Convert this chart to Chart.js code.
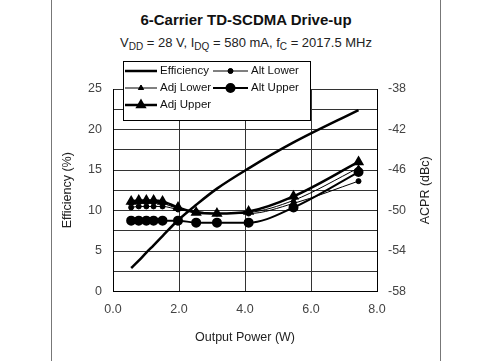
<!DOCTYPE html>
<html><head><meta charset="utf-8">
<script src="https://cdn.jsdelivr.net/npm/chart.js@4.4.0/dist/chart.umd.min.js"></script>
<style>
html,body{margin:0;padding:0;background:#fff;}
#wrap{position:relative;width:500px;height:361px;overflow:hidden;font-family:"Liberation Sans",Arial,sans-serif;}
#frame{position:absolute;left:51px;top:-2px;width:388px;height:400px;border-left:1px solid #777;border-right:1px solid #777;}
#t1{position:absolute;left:52px;width:388px;top:11px;text-align:center;font-weight:bold;font-size:15px;color:#111;}
#t2{position:absolute;left:52px;width:388px;top:35px;text-align:center;font-size:13px;color:#222;}
#t2 sub{font-size:10px;vertical-align:-3px;line-height:0;}
canvas{position:absolute;left:0;top:0;}
</style></head>
<body><div id="wrap">
<div id="frame"></div>
<div id="t1">6-Carrier TD-SCDMA Drive-up</div>
<div id="t2">V<sub>DD</sub> = 28 V, I<sub>DQ</sub> = 580 mA, f<sub>C</sub> = 2017.5 MHz</div>
<canvas id="c" width="500" height="361"></canvas>
</div>
<script>
const outputPower = [0.55, 0.78, 1.01, 1.23, 1.50, 1.97, 2.52, 3.15, 4.11, 5.47, 7.44];
const efficiency  = [2.9, 3.8, 4.8, 5.7, 6.85, 8.8, 10.7, 12.7, 15.2, 18.4, 22.4];
const altLower    = [-49.7, -49.6, -49.6, -49.6, -49.6, -49.9, -50.1, -50.3, -50.3, -49.3, -47.1];
const adjLower    = [-49.3, -49.2, -49.2, -49.2, -49.3, -49.8, -50.1, -50.3, -50.2, -49.0, -45.8];
const altUpper    = [-51.0, -51.0, -51.0, -51.0, -51.0, -51.0, -51.2, -51.2, -51.2, -49.7, -46.2];
const adjUpper    = [-49.1, -49.0, -49.0, -49.0, -49.1, -49.7, -50.2, -50.3, -50.1, -48.6, -45.2];
const xTicks = [0, 2, 4, 6, 8];
const effTicks = [0, 5, 10, 15, 20, 25];
const acprTicks = [-58, -54, -50, -46, -42, -38];

const pts = arr => arr.map((v, i) => ({x: outputPower[i], y: v}));
const FONT = '"Liberation Sans", Arial, sans-serif';

const legendItems = [
  {label:'Efficiency', x:125, y:71, w:2.5, style:null, r:0},
  {label:'Alt Lower', x:213, y:71, w:1, style:'circle', r:2.5},
  {label:'Adj Lower', x:125, y:88, w:1, style:'triangle', r:3},
  {label:'Alt Upper', x:213, y:88, w:2, style:'circle', r:4},
  {label:'Adj Upper', x:125, y:105, w:2.5, style:'triangle', r:4}
];

const extrasPlugin = {
  id:'extras',
  afterDraw(chart){
    const ctx = chart.ctx;
    ctx.save();
    // right axis title, reading bottom-to-top
    ctx.fillStyle = '#222';
    ctx.font = '12.5px ' + FONT;
    ctx.textAlign = 'center';
    ctx.textBaseline = 'middle';
    ctx.translate(426, (chart.chartArea.top + chart.chartArea.bottom) / 2);
    ctx.rotate(-Math.PI / 2);
    ctx.fillText('ACPR (dBc)', 0, 0);
    ctx.restore();

    ctx.save();
    ctx.fillStyle = '#fff';
    ctx.fillRect(123, 61, 187, 59);
    ctx.strokeStyle = '#000';
    ctx.lineWidth = 1;
    ctx.strokeRect(123.5, 61.5, 187, 59);
    ctx.font = '11.5px ' + FONT;
    ctx.textBaseline = 'middle';
    legendItems.forEach(it => {
      const sw = it.x === 125 ? 32 : 35;
      ctx.strokeStyle = '#000';
      ctx.lineWidth = it.w;
      ctx.beginPath();
      ctx.moveTo(it.x, it.y);
      ctx.lineTo(it.x + sw, it.y);
      ctx.stroke();
      if (it.style) {
        Chart.helpers.drawPoint(ctx, {pointStyle: it.style, radius: it.r, rotation: 0, borderWidth: 1}, it.x + sw/2, it.y);
        ctx.fillStyle = '#000';
        ctx.fill();
      }
      ctx.fillStyle = '#111';
      ctx.fillText(it.label, it.x + sw + 3, it.y);
    });
    ctx.restore();
  }
};

const common = {borderColor:'#000', backgroundColor:'#000', pointBorderColor:'#000', pointBackgroundColor:'#000', cubicInterpolationMode:'monotone', fill:false};

new Chart(document.getElementById('c'), {
  type:'line',
  data:{datasets:[
    Object.assign({label:'Efficiency', data:pts(efficiency), yAxisID:'y', borderWidth:2.5, pointRadius:0}, common),
    Object.assign({label:'Alt Lower', data:pts(altLower), yAxisID:'y2', borderWidth:1, pointRadius:2.5, pointStyle:'circle'}, common),
    Object.assign({label:'Adj Lower', data:pts(adjLower), yAxisID:'y2', borderWidth:1, pointRadius:3, pointStyle:'triangle'}, common),
    Object.assign({label:'Alt Upper', data:pts(altUpper), yAxisID:'y2', borderWidth:2, pointRadius:4, pointStyle:'circle'}, common),
    Object.assign({label:'Adj Upper', data:pts(adjUpper), yAxisID:'y2', borderWidth:2.5, pointRadius:4, pointStyle:'triangle'}, common)
  ]},
  options:{
    responsive:false, animation:false, devicePixelRatio:1,
    layout:{padding:{left:60, right:67, top:89, bottom:16}},
    plugins:{legend:{display:false}, title:{display:false}, tooltip:{enabled:false}},
    scales:{
      x:{type:'linear', min:0, max:8,
        afterFit(s){ s.height = 53.5; },
        afterBuildTicks(s){ s.ticks = xTicks.map(v => ({value:v})); },
        grid:{color:'#333', drawTicks:false},
        border:{color:'#000'},
        ticks:{padding:11, color:'#444', font:{family:FONT, size:12.5}, callback:v => v.toFixed(1), maxRotation:0},
        title:{display:true, text:'Output Power (W)', color:'#222', font:{family:FONT, size:12.5}, padding:{top:4,bottom:0}}
      },
      y:{position:'left', min:0, max:25,
        afterFit(s){ s.width = 53; },
        ticks:{stepSize:2.5, padding:11, color:'#444', font:{family:FONT, size:12.5},
          callback:v => effTicks.includes(v) ? String(v) : ''},
        grid:{color:'#333', drawTicks:false},
        border:{color:'#000'},
        title:{display:true, text:'Efficiency (%)', color:'#222', font:{family:FONT, size:12.5}, padding:0}
      },
      y2:{position:'right', min:-58, max:-38,
        afterFit(s){ s.width = 56; },
        ticks:{stepSize:2, padding:11, color:'#444', font:{family:FONT, size:12.5},
          callback:v => acprTicks.includes(v) ? String(v) : ''},
        grid:{drawOnChartArea:false, drawTicks:false},
        border:{color:'#000'},
        title:{display:false}
      }
    }
  },
  plugins:[extrasPlugin]
});
</script>
</body></html>
